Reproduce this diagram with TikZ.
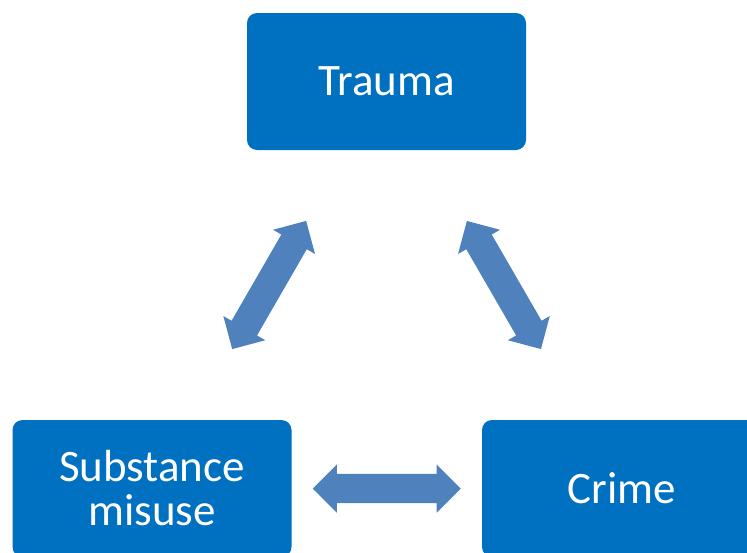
\documentclass[tikz,border=0pt]{standalone}
\usepackage{fontspec}
\setmainfont{Carlito}
\usetikzlibrary{shapes.arrows}
\definecolor{boxblue}{HTML}{0070C0}
\definecolor{arrowblue}{HTML}{4F81BD}
\begin{document}
\begin{tikzpicture}[x=1pt,y=-1pt,
    box/.style={fill=boxblue,text=white,rounded corners=10pt,minimum width=279pt,
      minimum height=137pt,align=center,font=\fontsize{45}{44}\selectfont},
    link/.style={double arrow,fill=arrowblue,sloped,inner xsep=0pt,inner ysep=14.5pt,
      minimum height=148pt,minimum width=48pt,double arrow head extend=9.5pt}]
    \useasboundingbox (0,0) rectangle (747,552);
    \node [box] (trauma) at (386.5,81.5) {Trauma};
    \node [box] (subst) at (152,488.5) {Substance\\misuse};
    \node [box] (crime) at (621.5,488.5) {Crime};
    \path (subst) -- node [link] (l1) {} (trauma);
    \path (trauma) -- node [link] (l2) {} (crime);
    \path (subst) -- node [link] (l3) {} (crime);
\end{tikzpicture}
\end{document}
